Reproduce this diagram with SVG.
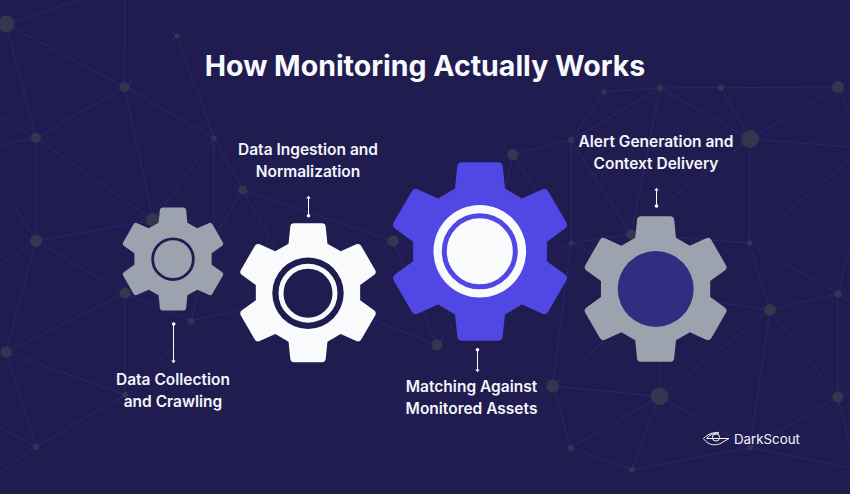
<svg xmlns="http://www.w3.org/2000/svg" xmlns:xlink="http://www.w3.org/1999/xlink" width="850" height="494" viewBox="0 0 850 494">
<style>
.net line{stroke:#2a2670;stroke-width:1;fill:none}
.net circle{fill:#34354e}
text{font-family:Inter,"Liberation Sans",sans-serif;fill:#f4f5fb;text-anchor:middle}
.t{font-size:28.500px;font-weight:700;fill:#f8f9fd}
.l{font-size:15.500px;font-weight:600}
.a line{stroke:#fff;stroke-width:1}
.a circle,.a path{fill:#fff}
</style>
<defs>
<path id="gear" d="M-28,-70.5L-25.5,-95Q-25,-100 -20,-100L20,-100Q25,-100 25.5,-95L28,-70.5L47.05,-59.5L69.52,-69.58Q74.1,-71.65 76.6,-67.32L96.6,-32.68Q99.1,-28.35 95.02,-25.42L75.05,-11L75.05,11L95.02,25.42Q99.1,28.35 96.6,32.68L76.6,67.32Q74.1,71.65 69.52,69.58L47.05,59.5L28,70.5L25.5,95Q25,100 20,100L-20,100Q-25,100 -25.5,95L-28,70.5L-47.05,59.5L-69.52,69.58Q-74.1,71.65 -76.6,67.32L-96.6,32.68Q-99.1,28.35 -95.02,25.42L-75.05,11L-75.05,-11L-95.02,-25.42Q-99.1,-28.35 -96.6,-32.68L-76.6,-67.32Q-74.1,-71.65 -69.52,-69.58L-47.05,-59.5Z"/>
</defs>
<rect width="850" height="494" fill="#201c50"/>
<g id="network" class="net">
<line x1="6" y1="24" x2="77" y2="0"/><line x1="6" y1="24" x2="124.500" y2="87"/><line x1="6" y1="24" x2="36" y2="138"/>
<line x1="124.500" y1="87" x2="125" y2="0"/><line x1="124.500" y1="87" x2="177" y2="36"/><line x1="124.500" y1="87" x2="36" y2="138"/><line x1="124.500" y1="87" x2="214" y2="138"/><line x1="124.500" y1="87" x2="153" y2="220"/>
<line x1="177" y1="36" x2="143" y2="0"/><line x1="177" y1="36" x2="214" y2="138"/>
<line x1="36" y1="138" x2="0" y2="117"/><line x1="36" y1="138" x2="0" y2="145"/><line x1="36" y1="138" x2="36" y2="241"/><line x1="36" y1="138" x2="153" y2="220"/>
<line x1="214" y1="138" x2="243" y2="190"/><line x1="214" y1="138" x2="153" y2="220"/><line x1="214" y1="138" x2="214" y2="230"/>
<line x1="153" y1="220" x2="36" y2="241"/><line x1="243" y1="190" x2="215" y2="235"/><line x1="243" y1="190" x2="393" y2="241"/><line x1="243" y1="190" x2="275" y2="248"/>
<line x1="36" y1="241" x2="0" y2="183"/><line x1="36" y1="241" x2="0" y2="264"/><line x1="36" y1="241" x2="125" y2="293"/><line x1="36" y1="241" x2="6" y2="352"/>
<line x1="125" y1="293" x2="6" y2="352"/><line x1="125" y1="293" x2="125" y2="395"/><line x1="125" y1="293" x2="191" y2="321"/>
<line x1="6" y1="352" x2="125" y2="395"/><line x1="6" y1="352" x2="36" y2="447"/><line x1="125" y1="395" x2="36" y2="447"/>
<line x1="36" y1="447" x2="0" y2="427"/><line x1="36" y1="447" x2="0" y2="472"/>
<line x1="191" y1="321" x2="250" y2="307"/><line x1="191" y1="321" x2="199" y2="292"/><line x1="150" y1="367" x2="177" y2="344"/>
<line x1="373" y1="320" x2="437" y2="345"/><line x1="393" y1="241" x2="437" y2="345"/><line x1="393" y1="241" x2="380" y2="248"/><line x1="393" y1="241" x2="452" y2="262"/><line x1="437" y1="345" x2="452" y2="325"/>
<line x1="513" y1="154.500" x2="505" y2="190"/><line x1="513" y1="154.500" x2="537" y2="192"/><line x1="513" y1="154.500" x2="571" y2="140"/>
<line x1="604" y1="91.700" x2="660" y2="88"/><line x1="604" y1="91.700" x2="571" y2="140"/><line x1="660" y1="88" x2="571" y2="140"/><line x1="660" y1="88" x2="721" y2="87.700"/><line x1="721" y1="87.700" x2="838" y2="87"/><line x1="660" y1="88" x2="750" y2="139"/><line x1="721" y1="87.700" x2="750" y2="139"/><line x1="660" y1="88" x2="631" y2="234"/><line x1="571" y1="140" x2="631" y2="234"/><line x1="571" y1="140" x2="571" y2="243"/>
<line x1="750" y1="139" x2="838" y2="87"/><line x1="750" y1="139" x2="850" y2="147"/><line x1="750" y1="139" x2="656" y2="210"/><line x1="750" y1="139" x2="749.500" y2="243"/><line x1="838" y1="87" x2="850" y2="117"/><line x1="850" y1="160" x2="749.500" y2="243"/>
<line x1="571" y1="243" x2="631" y2="234"/><line x1="631" y1="234" x2="749.500" y2="243"/><line x1="571" y1="243" x2="552.700" y2="386"/><line x1="571" y1="243" x2="545" y2="258"/><line x1="571" y1="243" x2="600" y2="258"/>
<line x1="513" y1="337" x2="552.700" y2="386"/><line x1="552.700" y1="386" x2="605" y2="340"/><line x1="552.700" y1="386" x2="659.500" y2="396.500"/><line x1="659.500" y1="396.500" x2="660" y2="350"/><line x1="659.500" y1="396.500" x2="770" y2="310"/><line x1="770" y1="310" x2="715" y2="302"/><line x1="770" y1="310" x2="838" y2="293.700"/><line x1="770" y1="310" x2="749.500" y2="243"/><line x1="749.500" y1="243" x2="838" y2="293.700"/>
<line x1="770" y1="310" x2="838" y2="397"/><line x1="770" y1="310" x2="750" y2="447.700"/><line x1="659.500" y1="396.500" x2="750" y2="447.700"/><line x1="659.500" y1="396.500" x2="571" y2="447.700"/><line x1="659.500" y1="396.500" x2="632" y2="469.700"/><line x1="571" y1="447.700" x2="632" y2="469.700"/><line x1="632" y1="469.700" x2="750" y2="447.700"/><line x1="552.700" y1="386" x2="571" y2="447.700"/><line x1="750" y1="447.700" x2="838" y2="397"/><line x1="750" y1="447.700" x2="850" y2="468"/>
<line x1="838" y1="293.700" x2="838" y2="397"/><line x1="838" y1="293.700" x2="850" y2="247"/><line x1="838" y1="293.700" x2="850" y2="302"/><line x1="838" y1="397" x2="850" y2="392"/><line x1="838" y1="397" x2="850" y2="447"/>
<circle cx="6" cy="24" r="8.500"/><circle cx="177" cy="36" r="2.500"/><circle cx="124.500" cy="87" r="5"/><circle cx="36" cy="138" r="5"/><circle cx="214" cy="138" r="2.500"/><circle cx="243" cy="190" r="4.500"/><circle cx="153" cy="220" r="7"/><circle cx="36" cy="241" r="6"/><circle cx="393" cy="241" r="5.500"/><circle cx="125" cy="293" r="5.500"/><circle cx="6" cy="352" r="5.500"/><circle cx="125" cy="395" r="3"/><circle cx="36" cy="447" r="3"/><circle cx="191" cy="321" r="3"/><circle cx="437" cy="345" r="5.500"/><circle cx="513" cy="154.500" r="5.500"/><circle cx="604" cy="91.700" r="2.500"/><circle cx="660" cy="88" r="3"/><circle cx="721" cy="87.700" r="3"/><circle cx="838" cy="87" r="6"/><circle cx="750" cy="139" r="9"/><circle cx="571" cy="140" r="3"/><circle cx="631" cy="234.500" r="5"/><circle cx="571" cy="243" r="2.500"/><circle cx="749.500" cy="243" r="2.500"/><circle cx="552.700" cy="386" r="6.500"/><circle cx="659.500" cy="396.500" r="8.800"/><circle cx="770" cy="310" r="6"/><circle cx="838" cy="293.700" r="3.500"/><circle cx="838" cy="397" r="5.500"/><circle cx="750" cy="447.700" r="3"/><circle cx="632" cy="469.700" r="3"/><circle cx="571" cy="447.700" r="3"/>
</g>
<text class="t" x="425" y="75.500">How Monitoring Actually Works</text>
<g id="gear-collection">
<use href="#gear" transform="translate(173 259) scale(.515)" fill="#9ca3af"/>
<circle cx="173" cy="259.200" r="20.300" fill="none" stroke="#201c50" stroke-width="2.800"/>
<text class="l" x="173" y="385">Data Collection</text><text class="l" x="173" y="407">and Crawling</text>
</g>
<g id="gear-ingestion">
<use href="#gear" transform="translate(308 292.700) scale(.695)" fill="#f9fafc"/>
<circle cx="308" cy="293.200" r="35.700" fill="#201c50"/>
<circle cx="308" cy="293.200" r="27" fill="none" stroke="#f9fafc" stroke-width="5"/>
<text class="l" x="308" y="155">Data Ingestion and</text><text class="l" x="308" y="177">Normalization</text>
</g>
<g id="gear-matching">
<use href="#gear" transform="translate(480 251.500) scale(.892)" fill="#5047e5"/>
<circle cx="479.800" cy="251.300" r="46.300" fill="#f9fafc"/>
<circle cx="479.800" cy="251.300" r="35.500" fill="none" stroke="#5047e5" stroke-width="5"/>
<text class="l" x="471.500" y="391.700">Matching Against</text><text class="l" x="471.500" y="413.700">Monitored Assets</text>
</g>
<g id="gear-alert">
<use href="#gear" transform="translate(655.600 289) scale(.728)" fill="#9ca3af"/>
<circle cx="655.700" cy="289" r="38" fill="#312e81"/>
<text class="l" x="656" y="147">Alert Generation and</text><text class="l" x="656" y="168.500">Context Delivery</text>
</g>
<g id="connectors" class="a">
<line x1="173.500" y1="324" x2="173.500" y2="361"/><circle cx="173.700" cy="324" r="1.800"/><path d="M171.300 360.500h4.400l-2.200 2.800z"/>
<line x1="308.500" y1="198" x2="308.500" y2="216"/><circle cx="308.500" cy="215.700" r="1.800"/><path d="M306.300 198.500h4.400l-2.200-2.800z"/>
<line x1="477.500" y1="350" x2="477.500" y2="370"/><circle cx="477.500" cy="349.700" r="1.800"/><path d="M475.300 369.500h4.400l-2.200 2.800z"/>
<line x1="656.500" y1="190" x2="656.500" y2="206"/><circle cx="656.500" cy="206" r="1.800"/><path d="M654.300 190.500h4.400l-2.200-2.800z"/>
</g>
<g id="logo">
<path d="M703.500 438.500C708 433.500 714 432 719 433C714 433 709 435 706.500 438.500H729L722 442.500C720 444.500 713 446 709 443.500C706 442 704.500 440 703.500 438.500Z" fill="none" stroke="#f4f5fb" stroke-width="1"/>
<circle cx="716" cy="437.500" r="3.600" fill="none" stroke="#f4f5fb" stroke-width="1"/>
<text x="734" y="443.500" style="text-anchor:start;font-size:13.300px">DarkScout</text>
</g>
</svg>
